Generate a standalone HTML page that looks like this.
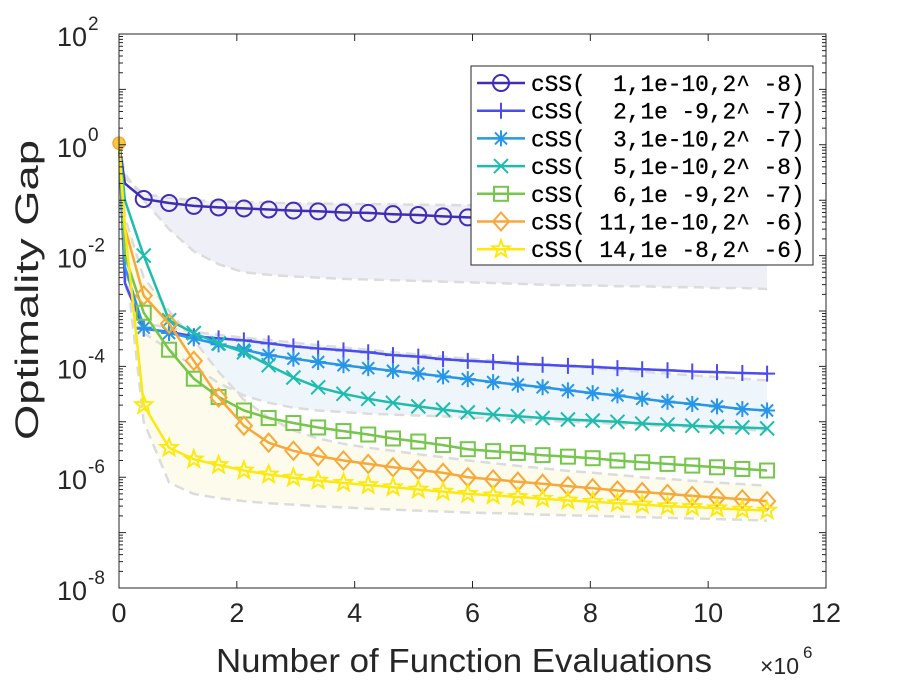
<!DOCTYPE html>
<html><head><meta charset="utf-8"><style>
body{margin:0;background:#fff;width:913px;height:686px;overflow:hidden}
svg text{font-family:"Liberation Sans",sans-serif;fill:#262626}
</style></head><body>
<svg id="chart" width="913" height="686" xmlns="http://www.w3.org/2000/svg"></svg>
<script>
const xs=[0,0.1,0.42,0.85,1.27,1.69,2.12,2.54,2.96,3.38,3.81,4.23,4.65,5.08,5.5,5.92,6.35,6.77,7.19,7.62,8.04,8.46,8.88,9.31,9.73,10.15,10.58,11];
const s1=[1.07,0.2,0.105,0.089,0.079,0.074,0.071,0.068,0.065,0.063,0.060,0.059,0.056,0.054,0.051,0.049,0.048,0.047,0.046,0.045,0.044,0.043,0.042,0.041,0.040,0.039,0.038,0.037];
const s2=[1.07,3.2e-3,4.8e-4,4.2e-4,3.5e-4,3.2e-4,2.95e-4,2.6e-4,2.3e-4,2.1e-4,1.95e-4,1.8e-4,1.6e-4,1.5e-4,1.35e-4,1.26e-4,1.2e-4,1.12e-4,1.07e-4,1.02e-4,9.8e-5,9.3e-5,8.9e-5,8.5e-5,8.1e-5,7.9e-5,7.6e-5,7.4e-5];
const s3=[1.07,6.3e-3,5.0e-4,4.0e-4,3.2e-4,2.5e-4,2.0e-4,1.6e-4,1.38e-4,1.2e-4,1.05e-4,9.3e-5,8.3e-5,7.4e-5,6.6e-5,5.9e-5,5.2e-5,4.7e-5,4.2e-5,3.7e-5,3.3e-5,3.0e-5,2.6e-5,2.3e-5,2.1e-5,1.9e-5,1.7e-5,1.6e-5];
const s5=[1.07,0.1,1.0e-2,6.8e-4,4.0e-4,2.6e-4,1.8e-4,1.05e-4,6.3e-5,4.2e-5,3.2e-5,2.6e-5,2.2e-5,1.9e-5,1.66e-5,1.48e-5,1.35e-5,1.26e-5,1.17e-5,1.1e-5,1.05e-5,1.0e-5,9.3e-6,8.9e-6,8.5e-6,8.1e-6,7.9e-6,7.6e-6];
const s6=[1.07,1e-2,9.3e-4,2.0e-4,6.0e-5,2.8e-5,1.6e-5,1.17e-5,9.5e-6,7.9e-6,6.8e-6,5.9e-6,5.0e-6,4.4e-6,3.8e-6,3.2e-6,2.95e-6,2.75e-6,2.5e-6,2.35e-6,2.2e-6,2.0e-6,1.86e-6,1.74e-6,1.62e-6,1.51e-6,1.41e-6,1.32e-6];
const s11=[1.07,3.2e-2,1.9e-3,5.9e-4,1.26e-4,2.75e-5,8.5e-6,4.2e-6,3.0e-6,2.4e-6,2.0e-6,1.74e-6,1.51e-6,1.35e-6,1.2e-6,1.0e-6,9.1e-7,8.3e-7,7.6e-7,6.9e-7,6.3e-7,5.75e-7,5.4e-7,5.0e-7,4.6e-7,4.3e-7,4.0e-7,3.7e-7];
const s14=[1.07,3.2e-2,2.0e-5,3.4e-6,2.1e-6,1.66e-6,1.32e-6,1.12e-6,9.8e-7,8.7e-7,7.9e-7,7.2e-7,6.6e-7,6.0e-7,5.5e-7,5.0e-7,4.7e-7,4.4e-7,4.1e-7,3.8e-7,3.6e-7,3.4e-7,3.2e-7,3.0e-7,2.9e-7,2.75e-7,2.6e-7,2.5e-7];
const band1Low=[1.07,0.3,0.1,0.03,0.012,0.007,0.005,0.0045,0.0042,0.004,0.0038,0.0037,0.0036,0.0035,0.0034,0.0033,0.0032,0.0031,0.003,0.0029,0.0029,0.0028,0.0028,0.0027,0.0027,0.0026,0.0026,0.0025];
const band1High=[1.07,0.25,0.13,0.11,0.1,0.095,0.092,0.09,0.088,0.087,0.086,0.085,0.084,0.083,0.082,0.081,0.08,0.079,0.078,0.077,0.076,0.075,0.074,0.073,0.072,0.071,0.07,0.069];
const band3Low=[1.07,3e-3,4e-4,2e-4,1e-4,5e-5,3e-5,2.2e-5,1.8e-5,1.6e-5,1.5e-5,1.4e-5,1.35e-5,1.3e-5,1.25e-5,1.2e-5,1.15e-5,1.1e-5,1.05e-5,1.0e-5,9.6e-6,9.2e-6,8.8e-6,8.4e-6,8.0e-6,7.6e-6,7.2e-6,6.9e-6];
const band3High=[1.07,4e-3,6e-4,5e-4,4.2e-4,3.7e-4,3.3e-4,3.0e-4,2.7e-4,2.4e-4,2.2e-4,2.0e-4,1.8e-4,1.65e-4,1.5e-4,1.38e-4,1.28e-4,1.18e-4,1.08e-4,1.0e-4,9.3e-5,8.6e-5,8.0e-5,7.4e-5,6.9e-5,6.4e-5,6.0e-5,5.6e-5];
const band14Low=[1.07,1e-2,1e-5,8e-7,5e-7,4.2e-7,3.7e-7,3.4e-7,3.2e-7,3.0e-7,2.85e-7,2.7e-7,2.6e-7,2.5e-7,2.4e-7,2.3e-7,2.25e-7,2.2e-7,2.1e-7,2.05e-7,2.0e-7,1.95e-7,1.9e-7,1.85e-7,1.8e-7,1.75e-7,1.7e-7,1.65e-7];
const band14High=[1.07,5e-2,4e-3,1e-3,3e-4,8e-5,2.5e-5,1.2e-5,7e-6,5e-6,4e-6,3.4e-6,3e-6,2.6e-6,2.3e-6,2.0e-6,1.8e-6,1.6e-6,1.45e-6,1.3e-6,1.2e-6,1.1e-6,1.0e-6,9.3e-7,8.6e-7,8.0e-7,7.5e-7,7.0e-7];
const xTicks=[0,2,4,6,8,10,12];
const yTickExps=[2,0,-2,-4,-6,-8];
const legendLabels=["cSS(  1,1e-10,2^ -8)","cSS(  2,1e -9,2^ -7)","cSS(  3,1e-10,2^ -7)","cSS(  5,1e-10,2^ -8)","cSS(  6,1e -9,2^ -7)","cSS( 11,1e-10,2^ -6)","cSS( 14,1e -8,2^ -6)"];

const L=119,R=826,T=34,B=588;
const X=v=>L+(v-0)/(12-0)*(R-L);
const Y=v=>T+(2-Math.log10(v))/10*(B-T);
const svg=document.getElementById('chart');
const NS='http://www.w3.org/2000/svg';
function mk(tag,attrs,parent){const e=document.createElementNS(NS,tag);for(const k in attrs)e.setAttribute(k,attrs[k]);(parent||svg).appendChild(e);return e;}
const pathOf=arr=>arr.map((v,i)=>(i?'L':'M')+X(xs[i]).toFixed(1)+','+Y(v).toFixed(1)).join('');

const bands=[[band1Low,band1High,'#efeff8'],[band3Low,band3High,'#eef6fc'],[band14Low,band14High,'#fdfcec']];
bands.forEach((b,bi)=>{
  const lo=b[0],hi=b[1];
  let d=pathOf(hi)+lo.slice().reverse().map((v,j)=>{const i=lo.length-1-j;return 'L'+X(xs[i]).toFixed(1)+','+Y(v).toFixed(1);}).join('')+'Z';
  const p=mk('path',{d:d,fill:b[2],stroke:'none'});
  
  
});
bands.forEach((b,bi)=>{
  [b[0],b[1]].forEach(arr=>{
    const p=mk('path',{d:pathOf(arr),fill:'none',stroke:'#dcdcdc','stroke-width':2.5,'stroke-dasharray':'10,6'});
    
    
  });
});

const series=[[s1,'#3e2db5','circle'],[s2,'#4a4cf0','plus'],[s3,'#2796e8','star'],[s5,'#1ebcae','x'],[s6,'#75c64a','square'],[s11,'#f8a838','diamond'],[s14,'#fbe910','pentagram']];
function marker(g,type,cx,cy,c){
  const r=8;
  const st={fill:'none',stroke:c,'stroke-width':2};
  if(type==='circle')mk('circle',Object.assign({cx:cx,cy:cy,r:r},st),g);
  else if(type==='plus')mk('path',Object.assign({d:`M${cx-r},${cy}H${cx+r}M${cx},${cy-r}V${cy+r}`},st),g);
  else if(type==='x')mk('path',Object.assign({d:`M${cx-7},${cy-7}L${cx+7},${cy+7}M${cx-7},${cy+7}L${cx+7},${cy-7}`},st),g);
  else if(type==='star')mk('path',Object.assign({d:`M${cx-r},${cy}H${cx+r}M${cx},${cy-r}V${cy+r}M${cx-6},${cy-6}L${cx+6},${cy+6}M${cx-6},${cy+6}L${cx+6},${cy-6}`},st),g);
  else if(type==='square')mk('rect',Object.assign({x:cx-7,y:cy-7,width:14,height:14},st),g);
  else if(type==='diamond')mk('path',Object.assign({d:`M${cx},${cy-9}L${cx+8},${cy}L${cx},${cy+9}L${cx-8},${cy}Z`},st),g);
  else {let pts=[];for(let k=0;k<10;k++){const a=-Math.PI/2+k*Math.PI/5,rr=k%2?3.8:9;pts.push((cx+rr*Math.cos(a)).toFixed(1)+','+(cy+rr*Math.sin(a)).toFixed(1));}
    mk('polygon',Object.assign({points:pts.join(' ')},st),g);}
}
series.forEach((s,si)=>{
  const g=mk('g',{});
  
  
  mk('path',{d:pathOf(s[0]),fill:'none',stroke:s[1],'stroke-width':2.5},g);
  s[0].forEach((v,i)=>{if(i>=2)marker(g,s[2],X(xs[i]),Y(v),s[1]);});
});
const sd=mk('circle',{cx:X(xs[0]),cy:Y(s14[0]),r:6,fill:'#f5c842',stroke:'#f8a838','stroke-width':1.5});



const box=mk('rect',{x:L,y:T,width:R-L,height:B-T,fill:'none',stroke:'#262626','stroke-width':1});


xTicks.forEach(t=>{
  const x=X(t);
  mk('path',{d:`M${x},${B}V${B-7}M${x},${T}V${T+7}`,stroke:'#262626','stroke-width':1});
  const tx=mk('text',{x:x,y:B+34,'font-size':27,'text-anchor':'middle'});
  tx.textContent=t;
  
  
});
for(let e=-8;e<2;e++){for(let m=1;m<10;m++){const y=Y(m*Math.pow(10,e));const len=m===1?7:4;
  mk('path',{d:`M${L},${y}H${L+len}M${R},${y}H${R-len}`,stroke:'#262626','stroke-width':1});}}
yTickExps.forEach(e=>{
  const y=Y(Math.pow(10,e));
  const tx=mk('text',{x:87,y:y+12,'font-size':27,'text-anchor':'end'});
  tx.textContent='10';
  
  
  const sp=mk('text',{x:88,y:y-4,'font-size':19,'text-anchor':'start'});
  sp.textContent=String(e);
  
  
});
const xt=mk('text',{x:216,y:672,'font-size':33,textLength:496,lengthAdjust:'spacingAndGlyphs'});
xt.textContent='Number of Function Evaluations';


const xm=mk('text',{x:760,y:674,'font-size':23});
xm.textContent='×10';


const xm2=mk('text',{x:803,y:658,'font-size':17});
xm2.textContent='6';


const yt=mk('text',{x:0,y:0,'font-size':32,textLength:300,lengthAdjust:'spacingAndGlyphs','text-anchor':'middle',transform:`translate(38,290) rotate(-90)`});
yt.textContent='Optimality Gap';



const lg=mk('g',{});


mk('rect',{x:471,y:66,width:342,height:199,fill:'#fff',stroke:'#262626','stroke-width':1},lg);
legendLabels.forEach((lab,i)=>{
  const y=83+i*27.7;
  const eg=mk('g',{},lg);
  
  
  mk('path',{d:`M477,${y}H525`,stroke:series[i][1],'stroke-width':2.5},eg);
  marker(eg,series[i][2],501,y,series[i][1]);
  const tx=mk('text',{x:531,y:y+8,'font-size':22.8},eg);
  tx.setAttribute('style','font-family:"Liberation Mono",monospace;white-space:pre;fill:#000;stroke:#000;stroke-width:0.3');
  tx.textContent=lab;
});
</script>
</body></html>
